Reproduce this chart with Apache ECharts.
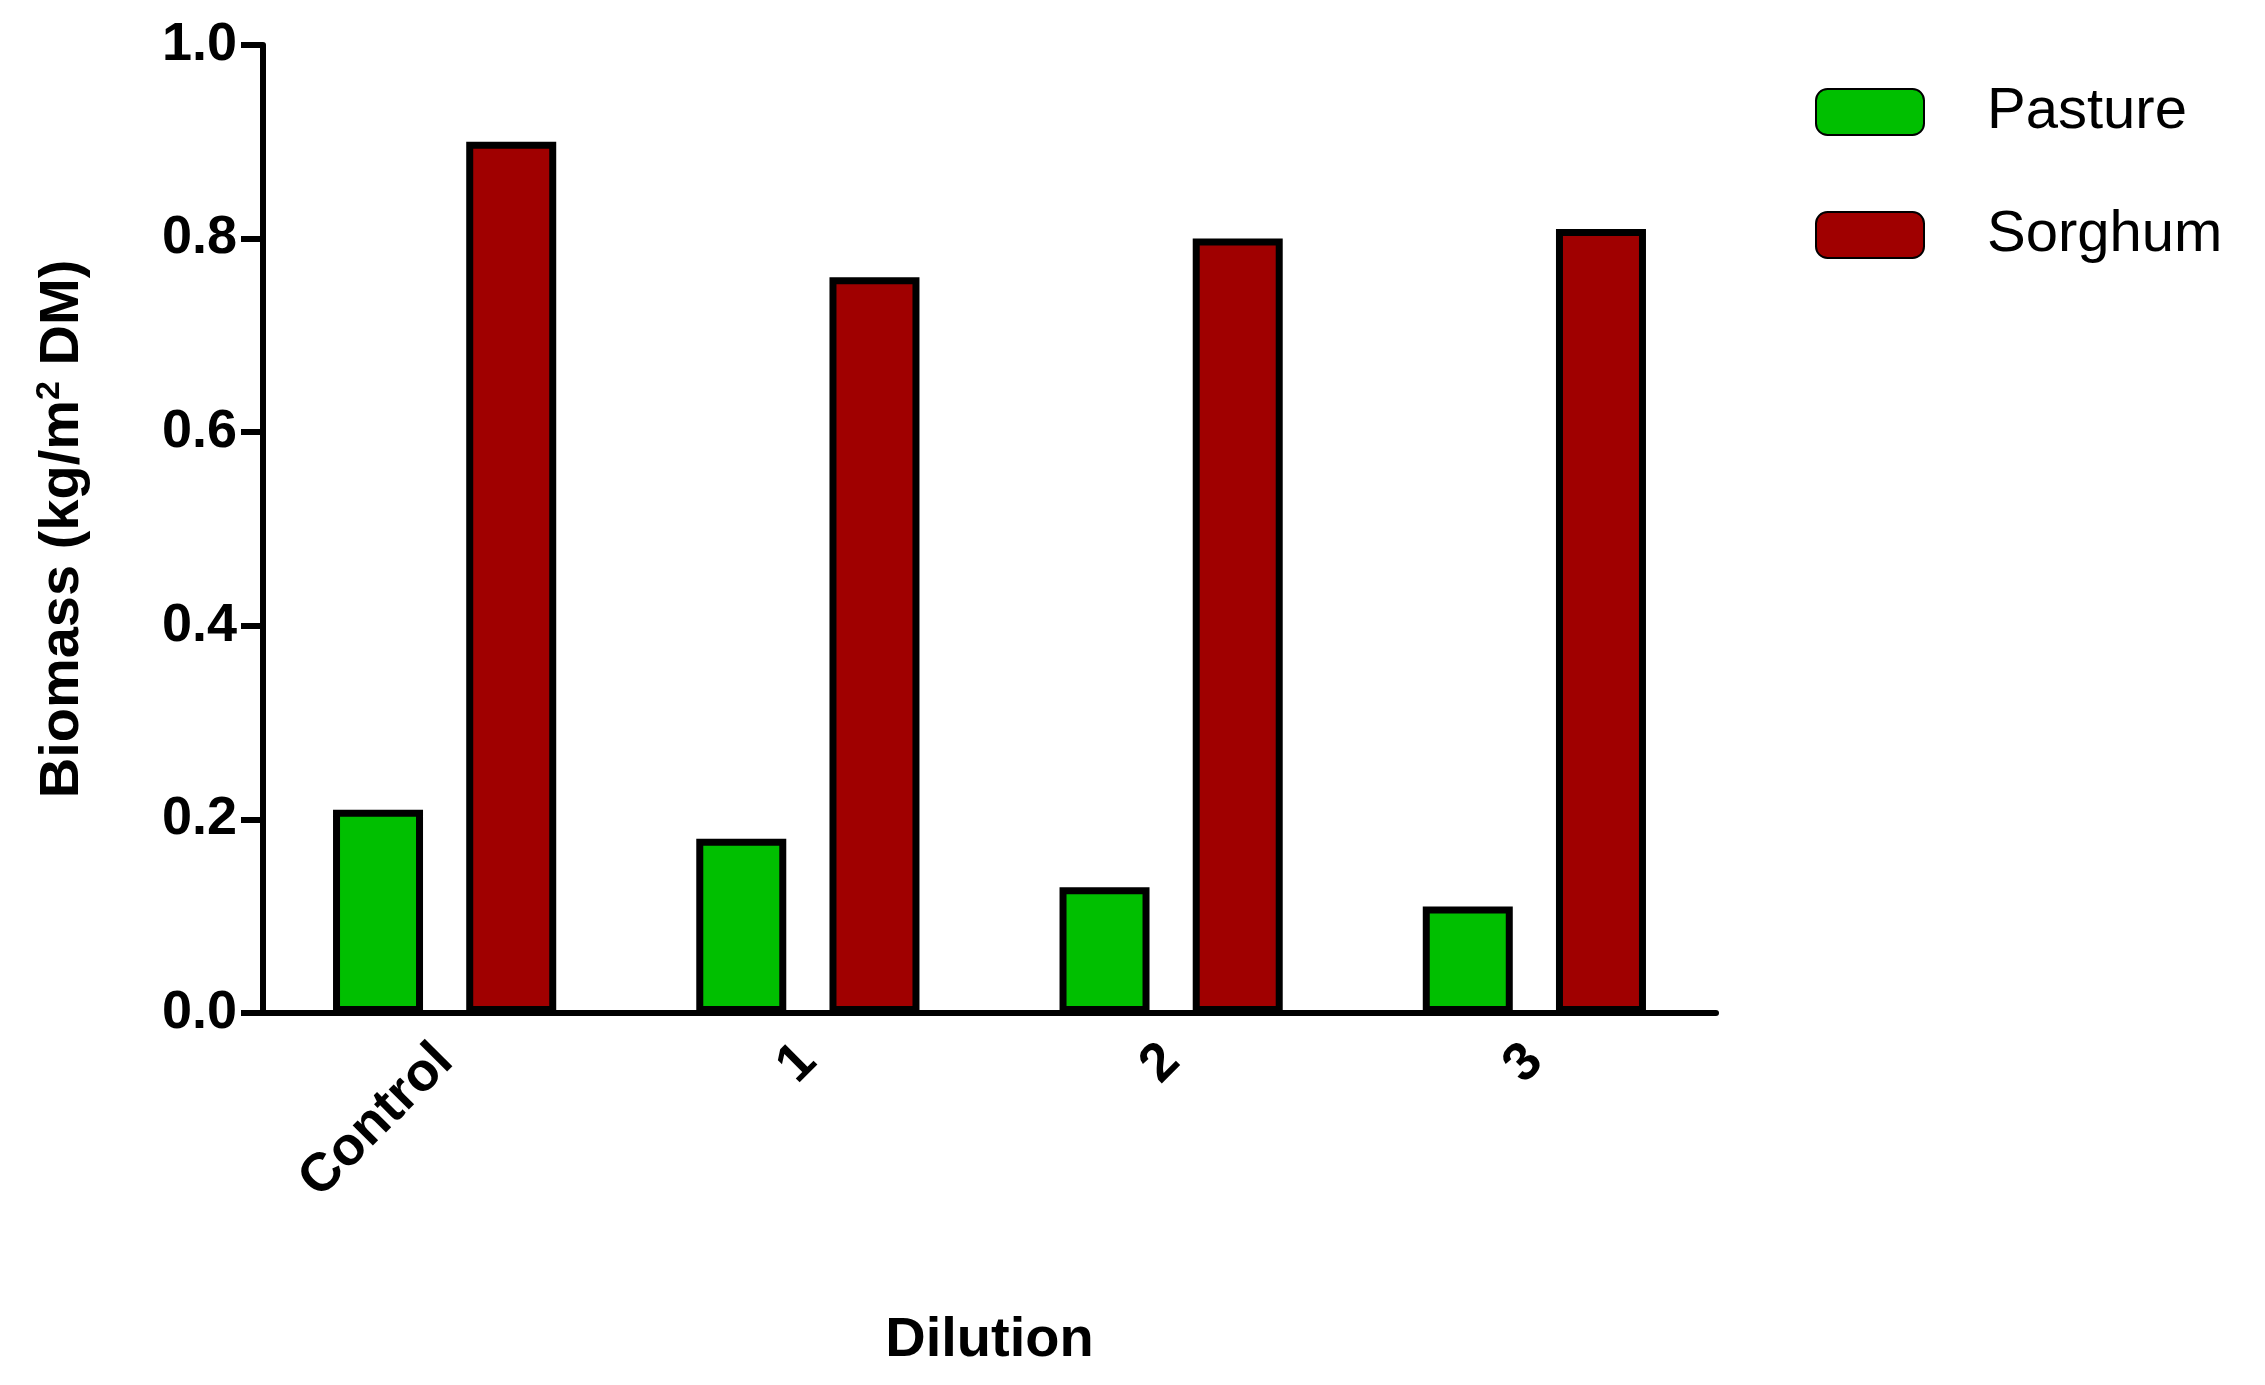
<!DOCTYPE html>
<html><head><meta charset="utf-8">
<script src="https://cdn.jsdelivr.net/npm/echarts@6/dist/echarts.min.js"></script>
<style>html,body{margin:0;padding:0;background:#fff}#c{width:2265px;height:1385px}</style>
</head><body><div id="c"></div>
<script>
const categories = ['Control','1','2','3'];
const pasture = [0.21, 0.18, 0.13, 0.11];
const sorghum = [0.90, 0.76, 0.80, 0.81];
const yTicks = [0, 0.2, 0.4, 0.6, 0.8, 1.0];
const font = 'Liberation Sans, Arial, sans-serif';
const chart = echarts.init(document.getElementById('c'));
chart.setOption({
  animation:false,
  legend:{right:10,left:1810,top:78,orient:'vertical',itemWidth:108,itemHeight:46,itemGap:65,
    textStyle:{fontFamily:font,fontSize:58,color:'#000',padding:[0,0,0,58]},
    data:['Pasture','Sorghum']},
  grid:{left:263,top:45,width:1453,height:968},
  xAxis:{type:'category',data:categories,
    axisLine:{lineStyle:{color:'#000',width:6}},
    axisTick:{alignWithLabel:true,length:22,lineStyle:{color:'#000',width:6}},
    axisLabel:{rotate:45,fontFamily:font,fontWeight:'bold',fontSize:54,color:'#000',margin:40},
    name:'Dilution',nameLocation:'middle',nameGap:300,
    nameTextStyle:{fontFamily:font,fontWeight:'bold',fontSize:56,color:'#000'}},
  yAxis:{type:'value',min:0,max:1,interval:0.2,
    axisLine:{show:true,lineStyle:{color:'#000',width:6}},
    axisTick:{show:true,length:22,lineStyle:{color:'#000',width:6}},
    splitLine:{show:false},
    axisLabel:{fontFamily:font,fontWeight:'bold',fontSize:54,color:'#000',margin:26,
      formatter:v=>{const t=yTicks.find(x=>Math.abs(x-v)<1e-9);return (t!==undefined?t:v).toFixed(1);}},
    name:'Biomass (kg/m{s|2} DM)',nameLocation:'middle',nameGap:170,
    nameTextStyle:{fontFamily:font,fontWeight:'bold',fontSize:56,color:'#000',
      rich:{s:{fontFamily:font,fontWeight:'bold',fontSize:34,color:'#000',verticalAlign:'top',padding:[0,0,26,0]}}}},
  series:[
    {name:'Pasture',type:'bar',data:pasture,barWidth:90,barGap:'48%',
      itemStyle:{color:'#00bf00',borderColor:'#000',borderWidth:7}},
    {name:'Sorghum',type:'bar',data:sorghum,barWidth:90,
      itemStyle:{color:'#a00000',borderColor:'#000',borderWidth:7}}
  ]
});
</script></body></html>
